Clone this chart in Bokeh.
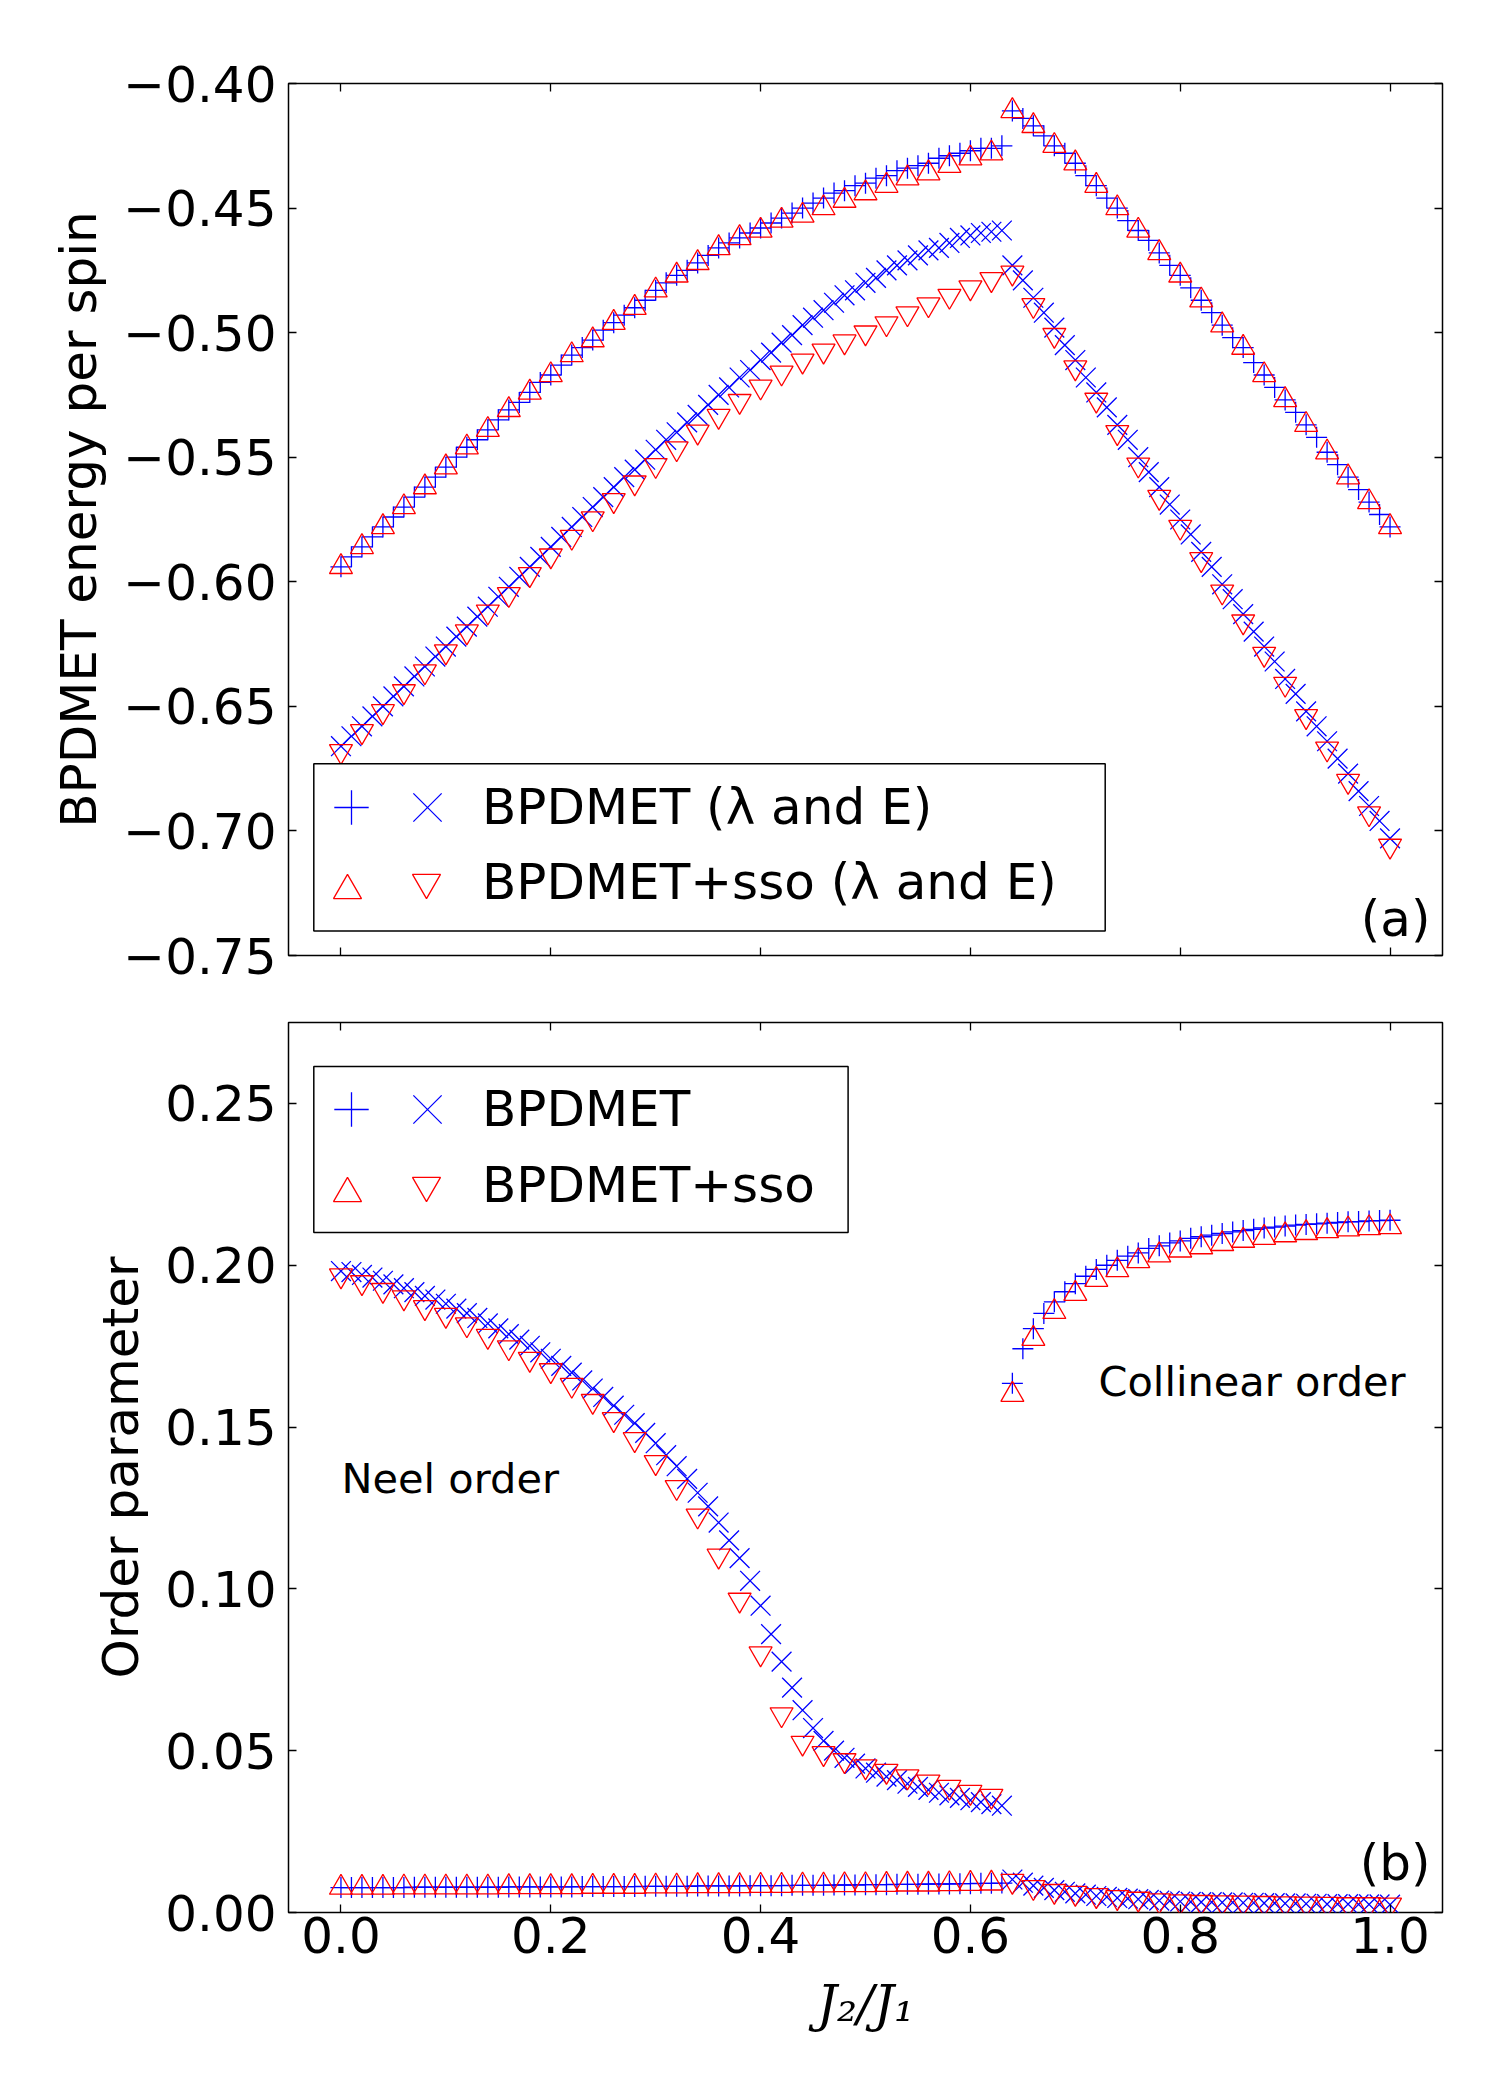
from bokeh.plotting import figure
from bokeh.models import (Range1d, FixedTicker, LinearAxis, Legend, LegendItem,
                          Label, BoxAnnotation, ColumnDataSource, CustomJSTickFormatter)
from bokeh.layouts import column
from bokeh.embed import file_html
from bokeh.resources import INLINE

# ---------------- data ----------------
x_fine = [0.00, 0.01, 0.02, 0.03, 0.04, 0.05, 0.06, 0.07, 0.08, 0.09,
          0.10, 0.11, 0.12, 0.13, 0.14, 0.15, 0.16, 0.17, 0.18, 0.19,
          0.20, 0.21, 0.22, 0.23, 0.24, 0.25, 0.26, 0.27, 0.28, 0.29,
          0.30, 0.31, 0.32, 0.33, 0.34, 0.35, 0.36, 0.37, 0.38, 0.39,
          0.40, 0.41, 0.42, 0.43, 0.44, 0.45, 0.46, 0.47, 0.48, 0.49,
          0.50, 0.51, 0.52, 0.53, 0.54, 0.55, 0.56, 0.57, 0.58, 0.59,
          0.60, 0.61, 0.62, 0.63, 0.64, 0.65, 0.66, 0.67, 0.68, 0.69,
          0.70, 0.71, 0.72, 0.73, 0.74, 0.75, 0.76, 0.77, 0.78, 0.79,
          0.80, 0.81, 0.82, 0.83, 0.84, 0.85, 0.86, 0.87, 0.88, 0.89,
          0.90, 0.91, 0.92, 0.93, 0.94, 0.95, 0.96, 0.97, 0.98, 0.99, 1.00]
x_coarse = [0.00, 0.02, 0.04, 0.06, 0.08, 0.10, 0.12, 0.14, 0.16, 0.18,
            0.20, 0.22, 0.24, 0.26, 0.28, 0.30, 0.32, 0.34, 0.36, 0.38,
            0.40, 0.42, 0.44, 0.46, 0.48, 0.50, 0.52, 0.54, 0.56, 0.58,
            0.60, 0.62, 0.64, 0.66, 0.68, 0.70, 0.72, 0.74, 0.76, 0.78,
            0.80, 0.82, 0.84, 0.86, 0.88, 0.90, 0.92, 0.94, 0.96, 0.98, 1.00]

# (a) BPDMET lambda (+) and energy E (x), on x_fine
bp_lambda = [-0.594, -0.590, -0.586, -0.582, -0.578, -0.574, -0.570, -0.566, -0.562, -0.558,
             -0.554, -0.550, -0.546, -0.543, -0.539, -0.535, -0.531, -0.528, -0.524, -0.520,
             -0.517, -0.513, -0.509, -0.506, -0.503, -0.499, -0.496, -0.493, -0.490, -0.487,
             -0.483, -0.480, -0.477, -0.475, -0.472, -0.469, -0.466, -0.464, -0.462, -0.460,
             -0.458, -0.456, -0.454, -0.452, -0.450, -0.448, -0.446, -0.444, -0.443, -0.441,
             -0.440, -0.438, -0.437, -0.435, -0.434, -0.433, -0.432, -0.430, -0.429, -0.428,
             -0.427, -0.426, -0.426, -0.425,
             -0.411, -0.414, -0.417, -0.421, -0.425, -0.428, -0.432, -0.437, -0.441, -0.446,
             -0.450, -0.455, -0.459, -0.463, -0.468, -0.473, -0.477, -0.482, -0.487, -0.492,
             -0.497, -0.502, -0.506, -0.512, -0.517, -0.522, -0.527, -0.532, -0.537, -0.542,
             -0.548, -0.553, -0.558, -0.563, -0.568, -0.573, -0.578]
bp_energy = [-0.666, -0.662, -0.658, -0.654, -0.650, -0.646, -0.642, -0.638, -0.634, -0.630,
             -0.626, -0.622, -0.618, -0.614, -0.610, -0.606, -0.602, -0.598, -0.594, -0.590,
             -0.586, -0.582, -0.578, -0.574, -0.570, -0.566, -0.562, -0.558, -0.555, -0.551,
             -0.547, -0.543, -0.540, -0.536, -0.533, -0.529, -0.525, -0.522, -0.518, -0.515,
             -0.511, -0.508, -0.504, -0.501, -0.497, -0.494, -0.491, -0.488, -0.485, -0.483,
             -0.480, -0.478, -0.475, -0.473, -0.471, -0.469, -0.467, -0.466, -0.464, -0.462,
             -0.461, -0.460, -0.4595, -0.459,
             -0.473, -0.479, -0.486, -0.492, -0.498, -0.505, -0.511, -0.518, -0.524, -0.530,
             -0.537, -0.543, -0.550, -0.556, -0.562, -0.569, -0.575, -0.581, -0.588, -0.594,
             -0.601, -0.607, -0.613, -0.620, -0.626, -0.632, -0.639, -0.645, -0.652, -0.658,
             -0.664, -0.671, -0.677, -0.684, -0.690, -0.696, -0.703]
# (a) BPDMET+sso lambda (triangle up) and E (triangle down), on x_coarse
sso_lambda = [-0.594, -0.586, -0.578, -0.570, -0.562, -0.554, -0.546, -0.539, -0.531, -0.524,
              -0.517, -0.509, -0.503, -0.496, -0.490, -0.483, -0.477, -0.472, -0.466, -0.462,
              -0.459, -0.455, -0.453, -0.450, -0.447, -0.444, -0.441, -0.438, -0.436, -0.433,
              -0.430, -0.428,
              -0.411, -0.417, -0.425, -0.432, -0.441, -0.450, -0.459, -0.468, -0.477, -0.487,
              -0.497, -0.506, -0.517, -0.527, -0.537, -0.548, -0.558, -0.568, -0.578]
sso_energy = [-0.668, -0.660, -0.652, -0.644, -0.636, -0.628, -0.620, -0.612, -0.605, -0.597,
              -0.5895, -0.582, -0.5746, -0.5673, -0.5602, -0.5532, -0.5465, -0.5398, -0.5335, -0.5275,
              -0.5217, -0.5161, -0.5113, -0.5073, -0.5036, -0.5000, -0.4963, -0.4923, -0.4887, -0.4853,
              -0.4819, -0.4786,
              -0.476, -0.489, -0.501, -0.514, -0.527, -0.540, -0.553, -0.566, -0.578, -0.591,
              -0.604, -0.616, -0.629, -0.641, -0.654, -0.667, -0.680, -0.693, -0.706]

# (b) order parameters: BPDMET collinear (+) and Neel (x), on x_fine
bp_collinear = [0.0077, 0.0077, 0.0077, 0.0077, 0.0077, 0.0077, 0.0077, 0.0078, 0.0078, 0.0078,
                0.0078, 0.0078, 0.0078, 0.0078, 0.0078, 0.0078, 0.0079, 0.0079, 0.0079, 0.0079,
                0.0079, 0.0079, 0.0079, 0.0080, 0.0080, 0.0080, 0.0080, 0.0080, 0.0080, 0.0081,
                0.0081, 0.0081, 0.0081, 0.0081, 0.0082, 0.0082, 0.0082, 0.0082, 0.0082, 0.0083,
                0.0083, 0.0083, 0.0083, 0.0084, 0.0084, 0.0084, 0.0084, 0.0085, 0.0085, 0.0085,
                0.0086, 0.0086, 0.0086, 0.0087, 0.0087, 0.0087, 0.0088, 0.0088, 0.0088, 0.0089,
                0.0089, 0.0090, 0.0090, 0.0091,
                0.1635, 0.1742, 0.1804, 0.1851, 0.1887, 0.1918, 0.1943, 0.1966, 0.1987, 0.2000,
                0.2015, 0.2028, 0.2038, 0.2052, 0.2060, 0.2069, 0.2075, 0.2083, 0.2088, 0.2093,
                0.2098, 0.2103, 0.2107, 0.2111, 0.2115, 0.2118, 0.2121, 0.2124, 0.2126, 0.2128,
                0.2130, 0.2132, 0.2134, 0.2135, 0.2137, 0.2138, 0.2139]
bp_neel = [0.1982, 0.1979, 0.1970, 0.1962, 0.1952, 0.1941, 0.1929, 0.1917, 0.1905, 0.1894,
           0.1881, 0.1866, 0.1852, 0.1837, 0.1820, 0.1805, 0.1787, 0.1770, 0.1751, 0.1731,
           0.1711, 0.1689, 0.1668, 0.1644, 0.1619, 0.1593, 0.1566, 0.1538, 0.1512, 0.1482,
           0.1450, 0.1413, 0.1379, 0.1340, 0.1297, 0.1255, 0.1205, 0.1150, 0.1095, 0.1025,
           0.0948, 0.0860, 0.0775, 0.0695, 0.0625, 0.0570, 0.0530, 0.0500, 0.0478, 0.0460,
           0.0445, 0.0432, 0.0420, 0.0409, 0.0398, 0.0388, 0.0379, 0.0370, 0.0362, 0.0354,
           0.0347, 0.0341, 0.0335, 0.0330,
           0.0102, 0.0092, 0.0083, 0.0076, 0.0069, 0.0064, 0.0059, 0.0055, 0.0051, 0.0048,
           0.0045, 0.0043, 0.0041, 0.0039, 0.0037, 0.0036, 0.0034, 0.0033, 0.0032, 0.0032,
           0.0031, 0.0031, 0.0030, 0.0030, 0.0029, 0.0029, 0.0028, 0.0028, 0.0027, 0.0027,
           0.0026, 0.0026, 0.0026, 0.0025, 0.0025, 0.0025, 0.0024]
# (b) BPDMET+sso collinear (triangle up) and Neel (triangle down), on x_coarse
sso_collinear = [0.0077, 0.0077, 0.0077, 0.0078, 0.0078, 0.0078, 0.0078, 0.0078, 0.0079, 0.0079,
                 0.0079, 0.0079, 0.0080, 0.0080, 0.0080, 0.0081, 0.0081, 0.0082, 0.0082, 0.0082,
                 0.0083, 0.0083, 0.0084, 0.0084, 0.0085, 0.0085, 0.0086, 0.0087, 0.0087, 0.0088,
                 0.0089, 0.0090,
                 0.1600, 0.1773, 0.1856, 0.1912, 0.1955, 0.1985, 0.2013, 0.2031, 0.2046, 0.2056,
                 0.2066, 0.2076, 0.2085, 0.2093, 0.2100, 0.2106, 0.2111, 0.2115, 0.2118]
sso_neel = [0.1968, 0.1947, 0.1923, 0.1900, 0.1870, 0.1846, 0.1817, 0.1781, 0.1746, 0.1710,
            0.1675, 0.1630, 0.1580, 0.1524, 0.1462, 0.1391, 0.1314, 0.1226, 0.1102, 0.0966,
            0.0800, 0.0612, 0.0524, 0.0492, 0.0470, 0.0451, 0.0437, 0.0420, 0.0404, 0.0388,
            0.0372, 0.0360,
            0.0097, 0.0078, 0.0066, 0.0060, 0.0053, 0.0047, 0.0042, 0.0037, 0.0034, 0.0032,
            0.0031, 0.0030, 0.0029, 0.0028, 0.0027, 0.0026, 0.0025, 0.0025, 0.0024]

x_ticks = [0.0, 0.2, 0.4, 0.6, 0.8, 1.0]
x_tick_labels = ["0.0", "0.2", "0.4", "0.6", "0.8", "1.0"]
ya_ticks = [-0.75, -0.70, -0.65, -0.60, -0.55, -0.50, -0.45, -0.40]
ya_tick_labels = ["\u22120.75", "\u22120.70", "\u22120.65", "\u22120.60",
                  "\u22120.55", "\u22120.50", "\u22120.45", "\u22120.40"]
yb_ticks = [0.00, 0.05, 0.10, 0.15, 0.20, 0.25]
yb_tick_labels = ["0.00", "0.05", "0.10", "0.15", "0.20", "0.25"]

legend_a = ["BPDMET (\u03bb and E)", "BPDMET+sso (\u03bb and E)"]
legend_b = ["BPDMET", "BPDMET+sso"]

# ---------------- style ----------------
BLUE = "#0000ff"
RED = "#ff0000"
FONT = "DejaVu Sans"
FS = "50px"
LW = 1.3

JS = """
for (let i = 0; i < t.length; i++) { if (Math.abs(tick - t[i]) < 1e-9) return l[i]; }
return "";
"""


def fmt(ticks, labels):
    return CustomJSTickFormatter(args=dict(t=ticks, l=labels), code=JS)


def tick_style(ax, ticks):
    ax.ticker = FixedTicker(ticks=ticks)
    ax.major_tick_in = 8
    ax.major_tick_out = 0
    ax.minor_tick_in = 0
    ax.minor_tick_out = 0
    ax.major_tick_line_color = "black"
    ax.major_tick_line_width = 1.3
    ax.axis_line_color = None


def no_labels(ax):
    ax.major_label_text_font_size = "0px"
    ax.major_label_standoff = 0
    ax.formatter = fmt([], [])


def make_fig(height, yr, btop, bbottom):
    p = figure(width=1500, height=height, x_range=Range1d(-0.05, 1.05), y_range=Range1d(*yr),
               output_backend="svg", toolbar_location=None,
               min_border_left=288, min_border_right=58,
               min_border_top=btop, min_border_bottom=bbottom,
               background_fill_color="white", border_fill_color="white")
    p.grid.visible = False
    p.outline_line_color = "black"
    p.outline_line_width = 1.5
    p.outline_line_alpha = 1.0
    return p


def add_frame_axes(p, yticks):
    r = LinearAxis()
    tick_style(r, yticks)
    no_labels(r)
    p.add_layout(r, "right")
    a = LinearAxis()
    tick_style(a, x_ticks)
    no_labels(a)
    p.add_layout(a, "above")


def one_item(p, renderer, label, cx, cy, glyph, standoff, frame_bottom):
    # single-entry legend whose glyph box (glyph x glyph px) is centred at (cx, cy) page px
    leg = Legend(items=[LegendItem(label=label, renderers=[renderer])],
                 location=(cx - glyph / 2 - 288, frame_bottom - cy - glyph / 2),
                 border_line_color=None, background_fill_alpha=0.0, padding=0, spacing=0,
                 margin=0, glyph_width=glyph, glyph_height=glyph,
                 label_standoff=standoff, label_width=0,
                 label_text_font=FONT, label_text_font_size=FS, label_text_color="black")
    p.add_layout(leg)


def add_legend(p, rp, rx, ru, rd, labels, box, row1, row2, frame_bottom):
    left, right, bottom, top = box
    p.add_layout(BoxAnnotation(left=left, right=right, bottom=bottom, top=top,
                               left_units="screen", right_units="screen",
                               bottom_units="screen", top_units="screen",
                               fill_color="white", fill_alpha=1.0,
                               line_color="black", line_width=1.5, line_alpha=1.0))
    one_item(p, rp, "", 351, row1, 86, 0, frame_bottom)
    one_item(p, rx, labels[0], 427, row1, 100, 5, frame_bottom)
    one_item(p, ru, "", 347, row2 + 4, 70, 0, frame_bottom)
    one_item(p, rd, labels[1], 426, row2 - 4, 70, 21, frame_bottom)


def draw_series(p, yp, yx, yu, yd):
    sf = ColumnDataSource(dict(x=x_fine, a=yp, b=yx))
    sc = ColumnDataSource(dict(x=x_coarse, a=yu, b=yd))
    rp = p.scatter("x", "a", source=sf, marker="cross", size=21, line_color=BLUE, line_width=LW)
    rx = p.scatter("x", "b", source=sf, marker="x", size=28, line_color=BLUE, line_width=LW)
    ru = p.scatter("x", "a", source=sc, marker="triangle", size=23, line_color=RED,
                   fill_color=None, line_width=LW)
    rd = p.scatter("x", "b", source=sc, marker="inverted_triangle", size=23, line_color=RED,
                   fill_color=None, line_width=LW)
    return rp, rx, ru, rd


# ---------------- panel (a) ----------------
p1 = make_fig(985, (-0.75, -0.40), 83, 30)
rs = draw_series(p1, bp_lambda, bp_energy, sso_lambda, sso_energy)

xa = p1.xaxis[0]
tick_style(xa, x_ticks)
no_labels(xa)
ya = p1.yaxis[0]
tick_style(ya, ya_ticks)
ya.formatter = fmt(ya_ticks, ya_tick_labels)
ya.major_label_text_font = FONT
ya.major_label_text_font_size = FS
ya.major_label_text_color = "black"
ya.major_label_standoff = 12
ya.axis_label = "BPDMET energy per spin"
ya.axis_label_text_font = FONT
ya.axis_label_text_font_size = FS
ya.axis_label_text_font_style = "normal"
ya.axis_label_text_color = "black"
ya.axis_label_standoff = 12
add_frame_axes(p1, ya_ticks)

add_legend(p1, *rs, legend_a, (25.3, 816.7, 24.4, 191.8), 807.4, 886.4, 955)
p1.add_layout(Label(x=1142, y=37, x_units="screen", y_units="screen", text="(a)",
                    text_align="right", text_baseline="middle", text_font=FONT,
                    text_font_size=FS, text_color="black"))

# ---------------- panel (b) ----------------
p2 = make_fig(1115, (0.0, 0.275), 37, 188)
rs2 = draw_series(p2, bp_collinear, bp_neel, sso_collinear, sso_neel)

xb = p2.xaxis[0]
tick_style(xb, x_ticks)
xb.formatter = fmt(x_ticks, x_tick_labels)
xb.major_label_text_font = FONT
xb.major_label_text_font_size = FS
xb.major_label_text_color = "black"
xb.major_label_standoff = 4
xb.axis_label = "J\u2082/J\u2081"
xb.axis_label_text_font = "DejaVu Serif"
xb.axis_label_text_font_size = FS
xb.axis_label_text_font_style = "italic"
xb.axis_label_text_color = "black"
xb.axis_label_standoff = 19
yb = p2.yaxis[0]
tick_style(yb, yb_ticks)
yb.formatter = fmt(yb_ticks, yb_tick_labels)
yb.major_label_text_font = FONT
yb.major_label_text_font_size = FS
yb.major_label_text_color = "black"
yb.major_label_standoff = 12
yb.axis_label = "Order parameter"
yb.axis_label_text_font = FONT
yb.axis_label_text_font_size = FS
yb.axis_label_text_font_style = "normal"
yb.axis_label_text_color = "black"
yb.axis_label_standoff = 12
add_frame_axes(p2, yb_ticks)

add_legend(p2, *rs2, legend_b, (25.3, 559.6, 680.1, 846.1), 1108.7, 1189.0, 1912)
p2.add_layout(Label(x=1142, y=50, x_units="screen", y_units="screen", text="(b)",
                    text_align="right", text_baseline="middle", text_font=FONT,
                    text_font_size=FS, text_color="black"))
p2.add_layout(Label(x=53, y=434, x_units="screen", y_units="screen", text="Neel order",
                    text_align="left", text_baseline="middle", text_font=FONT,
                    text_font_size="41.5px", text_color="black"))
p2.add_layout(Label(x=810, y=531, x_units="screen", y_units="screen", text="Collinear order",
                    text_align="left", text_baseline="middle", text_font=FONT,
                    text_font_size="41.5px", text_color="black"))

layout = column(p1, p2)
open("out.html", "w").write(file_html(layout, INLINE))
